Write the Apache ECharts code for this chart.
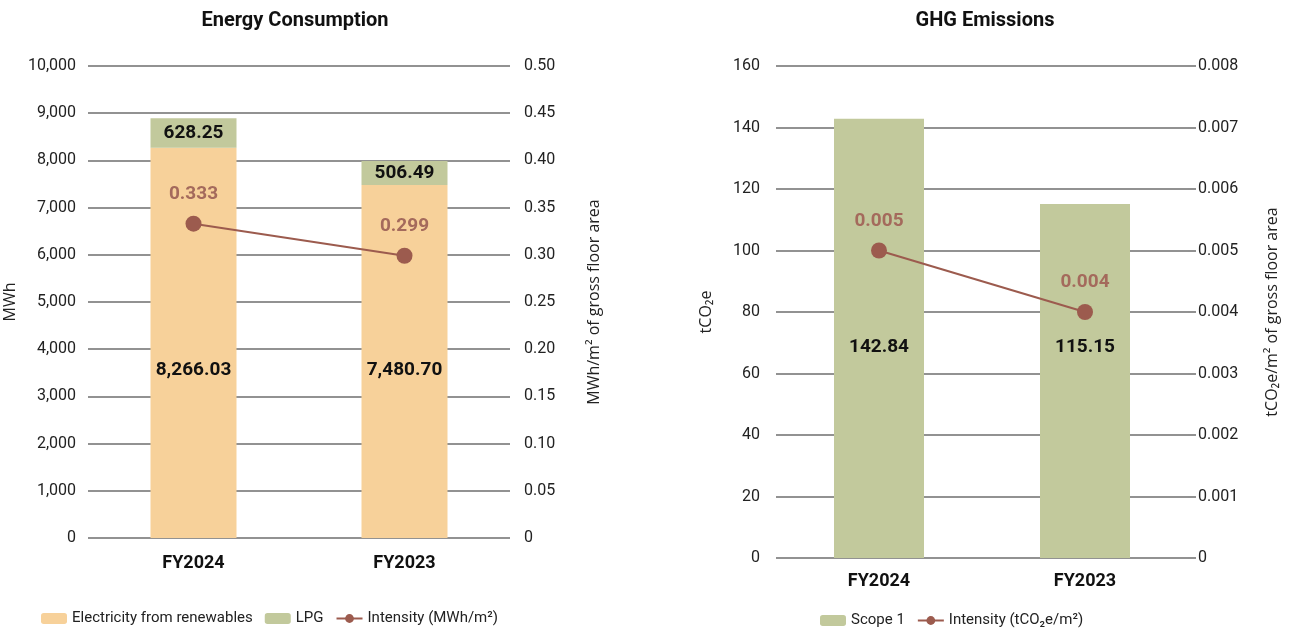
<!DOCTYPE html>
<html><head><meta charset="utf-8">
<script src="https://cdn.jsdelivr.net/npm/echarts@6/dist/echarts.min.js"></script>
<style>html,body{margin:0;padding:0;background:#fff}#c{width:1293px;height:631px}</style>
</head><body><div id="c"></div>
<script>
const categories = ['FY2024', 'FY2023'];
const electricity = [8266.03, 7480.70];
const lpg = [628.25, 506.49];
const energyIntensity = [0.333, 0.299];
const scope1 = [142.84, 115.15];
const ghgIntensity = [0.005, 0.004];

const FONT = 'Roboto, "Noto Sans", sans-serif';
const NAME_FONT = '"Open Sans", "DejaVu Sans", sans-serif';
const C_ELEC = '#f7d19a', C_LPG = '#c2c99c', C_LINE = '#9c5b4e', C_LINE_LBL = '#a46a5c';
const GRID_LINE = {show: true, lineStyle: {color: '#6e6e6e', width: 1.5}};

function fmtComma(v){ return v.toLocaleString('en-US'); }
function fmtDec(d){ return v => v === 0 ? '0' : v.toFixed(d); }

const chart = echarts.init(document.getElementById('c'));
const axisLabel = {color: '#222', fontSize: 16, fontFamily: FONT};
const catLabel = {color: '#111', fontSize: 18, fontWeight: 'bold', fontFamily: FONT};
const nameStyle = {color: '#222', fontSize: 16, fontFamily: NAME_FONT};

chart.setOption({
  animation: false,
  textStyle: {fontFamily: FONT},
  title: [
    {text: 'Energy Consumption', left: 290, top: 6, textAlign: 'center', textStyle: {fontSize: 20, fontWeight: 'bold', color: '#111', fontFamily: FONT}},
    {text: 'GHG Emissions', left: 980, top: 6, textAlign: 'center', textStyle: {fontSize: 20, fontWeight: 'bold', color: '#111', fontFamily: FONT}}
  ],
  legend: [
    {data: ['Electricity from renewables', 'LPG', 'Intensity (MWh/m²)'], left: 36, top: 606, itemWidth: 26, itemHeight: 11, itemGap: 12,
     textStyle: {fontSize: 15, color: '#222', fontFamily: FONT}},
    {data: ['Scope 1', 'Intensity (tCO₂e/m²)'], left: 815, top: 608, itemWidth: 26, itemHeight: 11, itemGap: 12,
     textStyle: {fontSize: 15, color: '#222', fontFamily: FONT}}
  ],
  grid: [
    {left: 88, top: 66, width: 422, height: 472},
    {left: 776, top: 66, width: 412, height: 492}
  ],
  xAxis: [
    {type: 'category', gridIndex: 0, data: categories, axisLine: {show: false}, axisTick: {show: false}, axisLabel: Object.assign({margin: 16}, catLabel)},
    {type: 'category', gridIndex: 1, data: categories, axisLine: {show: false}, axisTick: {show: false}, axisLabel: Object.assign({margin: 14}, catLabel)}
  ],
  yAxis: [
    {type: 'value', gridIndex: 0, min: 0, max: 10000, interval: 1000, splitLine: GRID_LINE, axisLine: {show: false}, axisTick: {show: false},
     axisLabel: Object.assign({margin: 12, formatter: fmtComma}, axisLabel),
     name: 'MWh', nameLocation: 'middle', nameRotate: 90, nameGap: 70, nameTextStyle: nameStyle},
    {type: 'value', gridIndex: 0, position: 'right', min: 0, max: 0.5, interval: 0.05, splitLine: {show: false}, axisLine: {show: false}, axisTick: {show: false},
     axisLabel: Object.assign({margin: 14, formatter: fmtDec(2)}, axisLabel),
     name: 'MWh/m² of gross floor area', nameLocation: 'middle', nameRotate: 90, nameGap: 76, nameTextStyle: nameStyle},
    {type: 'value', gridIndex: 1, min: 0, max: 160, interval: 20, splitLine: GRID_LINE, axisLine: {show: false}, axisTick: {show: false},
     axisLabel: Object.assign({margin: 16}, axisLabel),
     name: 'tCO₂e', nameLocation: 'middle', nameRotate: 90, nameGap: 62, nameTextStyle: nameStyle},
    {type: 'value', gridIndex: 1, position: 'right', min: 0, max: 0.008, interval: 0.001, splitLine: {show: false}, axisLine: {show: false},
     axisTick: {show: true, length: 8, inside: false, lineStyle: {color: '#6e6e6e', width: 1.5}},
     axisLabel: Object.assign({margin: 10, formatter: fmtDec(3)}, axisLabel),
     name: 'tCO₂e/m² of gross floor area', nameLocation: 'middle', nameRotate: 90, nameGap: 76, nameTextStyle: nameStyle}
  ],
  series: [
    {name: 'Electricity from renewables', type: 'bar', xAxisIndex: 0, yAxisIndex: 0, stack: 'e', data: electricity, barWidth: 86,
     itemStyle: {color: C_ELEC},
     label: {show: true, position: 'insideBottom', distance: 158, color: '#111', fontSize: 19, fontWeight: 'bold', fontFamily: FONT,
             formatter: p => p.value.toLocaleString('en-US', {minimumFractionDigits: 2, maximumFractionDigits: 2})}},
    {name: 'LPG', type: 'bar', xAxisIndex: 0, yAxisIndex: 0, stack: 'e', data: lpg, barWidth: 86,
     itemStyle: {color: C_LPG},
     label: {show: true, position: 'inside', color: '#111', fontSize: 19, fontWeight: 'bold', fontFamily: FONT,
             formatter: p => p.value.toFixed(2)}},
    {name: 'Intensity (MWh/m²)', type: 'line', xAxisIndex: 0, yAxisIndex: 1, data: energyIntensity,
     symbol: 'circle', symbolSize: 16, lineStyle: {color: C_LINE, width: 2}, itemStyle: {color: C_LINE},
     label: {show: true, position: 'top', distance: 12, color: C_LINE_LBL, fontSize: 19, fontWeight: 'bold', fontFamily: FONT,
             formatter: p => p.value.toFixed(3)}},
    {name: 'Scope 1', type: 'bar', xAxisIndex: 1, yAxisIndex: 2, data: scope1, barWidth: 90,
     itemStyle: {color: C_LPG},
     label: {show: true, position: 'insideBottom', distance: 201, color: '#111', fontSize: 19, fontWeight: 'bold', fontFamily: FONT,
             formatter: p => p.value.toFixed(2)}},
    {name: 'Intensity (tCO₂e/m²)', type: 'line', xAxisIndex: 1, yAxisIndex: 3, data: ghgIntensity,
     symbol: 'circle', symbolSize: 16, lineStyle: {color: C_LINE, width: 2}, itemStyle: {color: C_LINE},
     label: {show: true, position: 'top', distance: 12, color: C_LINE_LBL, fontSize: 19, fontWeight: 'bold', fontFamily: FONT,
             formatter: p => p.value.toFixed(3)}}
  ]
});
</script></body></html>
